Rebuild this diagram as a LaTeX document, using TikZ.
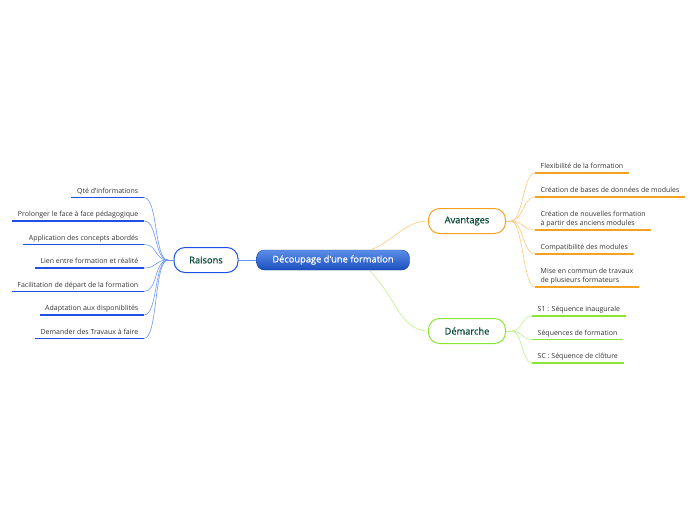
\documentclass[tikz,border=0pt]{standalone}
\usepackage{fontspec}
\setmainfont{Open Sans}
\newfontfamily\topicfont[FakeBold=0.7]{Open Sans}
\usetikzlibrary{calc}
\definecolor{cblue}{HTML}{1E50E6}
\definecolor{lblue}{HTML}{6E96F5}
\definecolor{gtop}{HTML}{5C8EE8}
\definecolor{gbot}{HTML}{1A4FBF}
\definecolor{corange}{HTML}{F5A21E}
\definecolor{lorange}{HTML}{FCC878}
\definecolor{cgreen}{HTML}{8AE632}
\definecolor{lgreen}{HTML}{BDF28A}
\definecolor{ntext}{HTML}{0B4A3A}
\definecolor{ltext}{HTML}{333333}
\tikzset{
  x=1pt, y=-1pt,
  mainbox/.style={rounded corners=8pt, draw=gbot!80!black, top color=gtop, bottom color=gbot, minimum width=153pt, minimum height=20pt, text=white, font=\topicfont\fontsize{9.3}{10}\selectfont},
  topic/.style={rounded corners=11pt, draw=#1, line width=1pt, fill=white, minimum height=25pt, text=ntext, font=\topicfont\fontsize{9.3}{10}\selectfont},
  leaf/.style={inner xsep=5.5pt, inner ysep=0pt, text height=5pt, text depth=4pt, text=ltext, font=\fontsize{7}{9.5}\selectfont},
  leafL/.style={leaf, anchor=south east},
  leafR/.style={leaf, anchor=south west, align=left},
  uline/.style={line width=1.4pt, draw=#1},
  conn/.style={line width=0.6pt, draw=#1},
}
\begin{document}
\begin{tikzpicture}
\useasboundingbox (0,0) rectangle (696,520);
% central
\node[mainbox] (c) at (333,260) {Découpage d'une formation};
\node[topic=cblue, minimum width=64pt] (r) at (206,260) {Raisons};
\node[topic=corange, minimum width=77pt] (a) at (467,221) {Avantages};
\node[topic=cgreen, minimum width=77pt] (d) at (467,331) {Démarche};
\draw[conn=lblue] (c.west) -- (r.east);
\draw[conn=lorange] ($(c.north)+(38,0)$) .. controls (395,240) and (405,221) .. (a.west);
\draw[conn=lgreen] ($(c.south)+(36,0)$) .. controls (395,295) and (400,331) .. (d.west);
% Raisons leaves
\coordinate (rj) at (168,260);
\draw[conn=lblue] (r.west) -- (rj);
\foreach \n/\y/\t in {1/197.5/{Qté d'informations},2/221/{Prolonger le face à face pédagogique},3/244.5/{Application des concepts abordés},4/268/{Lien entre formation et réalité},5/291.5/{Facilitation de départ de la formation},6/315/{Adaptation aux disponiblités},7/338.5/{Demander des Travaux à faire}}{
  \node[leafL] (rl\n) at (144,\y) {\t};
  \draw[uline=cblue] (rl\n.south west) -- (rl\n.south east);
  \draw[conn=lblue] (rj) .. controls +(-14,0) and +(14,0) .. (rl\n.south east);
}
% Avantages leaves
\coordinate (aj) at (511,221);
\draw[conn=lorange] (a.east) -- (aj);
\node[leafR] (al1) at (535,173) {Flexibilité de la formation};
\node[leafR] (al2) at (535,197) {Création de bases de données de modules};
\node[leafR] (al3) at (535,230) {Création de nouvelles formation\\ à partir des anciens modules};
\node[leafR] (al4) at (535,254) {Compatibilité des modules};
\node[leafR] (al5) at (535,287) {Mise en commun de travaux\\de plusieurs formateurs};
\foreach \n in {1,...,5}{
  \draw[uline=corange] (al\n.south west) -- (al\n.south east);
  \draw[conn=lorange] (aj) .. controls +(12,0) and +(-12,0) .. (al\n.south west);
}
% Demarche leaves
\coordinate (dj) at (512,331);
\draw[conn=lgreen] (d.east) -- (dj);
\node[leafR] (dl1) at (532,316) {S1 : Séquence inaugurale};
\node[leafR] (dl2) at (532,339.5) {Séquences de formation};
\node[leafR] (dl3) at (532,363) {SC : Séquence de clôture};
\foreach \n in {1,2,3}{
  \draw[uline=cgreen] (dl\n.south west) -- (dl\n.south east);
  \draw[conn=lgreen] (dj) .. controls +(10,0) and +(-10,0) .. (dl\n.south west);
}
\end{tikzpicture}
\end{document}
